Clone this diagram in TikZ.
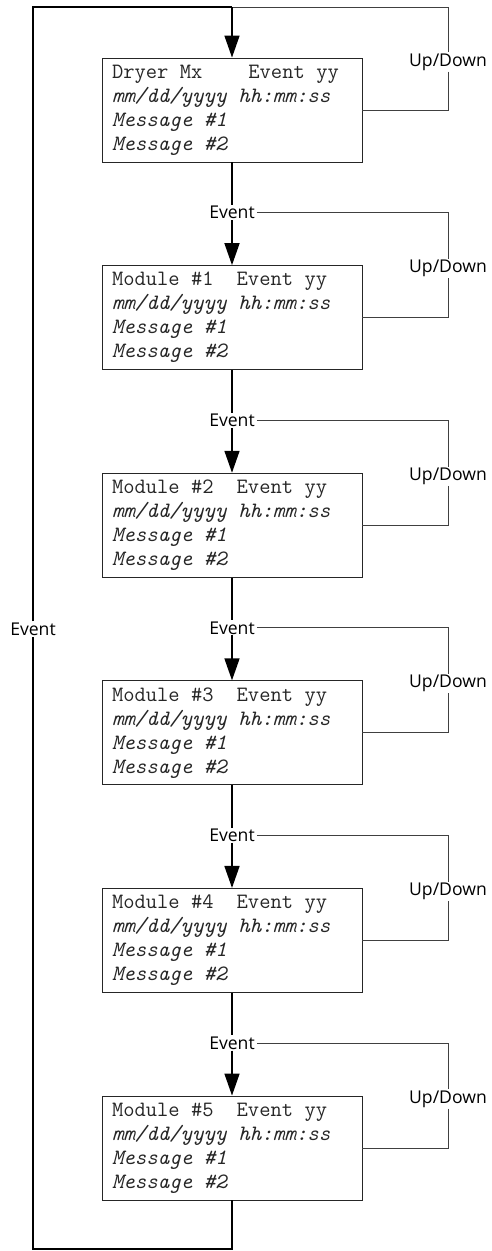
\documentclass[tikz,border=0pt]{standalone}
\usepackage{fontspec}
\newfontfamily\labelfont{Open Sans}
\usetikzlibrary{arrows.meta}
\newcommand\gap{\hspace*{0.525em}}

\begin{document}
\begin{tikzpicture}[x=1pt, y=-1pt,
    screen/.style={draw=black!85, line width=0.9pt, minimum height=104pt,
        inner xsep=10pt, text width=240pt, align=left, text=black!85,
        font=\ttfamily\fontsize{21.9}{24}\selectfont},
    lbl/.style={fill=white, inner xsep=2pt, inner ysep=1pt,
        font=\labelfont\fontsize{17.6}{20}\selectfont},
    flow/.style={line width=1.6pt},
    flowarrow/.style={flow, -{Triangle[length=22pt, width=15pt]}},
    side/.style={line width=0.9pt, draw=black!75}]
    \useasboundingbox (0,0) rectangle (492,1251);

    % screens
    \node[screen] (m0) at (232,110)    {Dryer\gap Mx\gap\gap\gap\gap Event\gap yy\\\textit{mm/dd/yyyy\gap hh:mm:ss}\\\textit{Message\gap\#1}\\\textit{Message\gap\#2}};
    \node[screen] (m1) at (232,317.6)  {Module\gap\#1\gap\gap Event\gap yy\\\textit{mm/dd/yyyy\gap hh:mm:ss}\\\textit{Message\gap\#1}\\\textit{Message\gap\#2}};
    \node[screen] (m2) at (232,525.2)  {Module\gap\#2\gap\gap Event\gap yy\\\textit{mm/dd/yyyy\gap hh:mm:ss}\\\textit{Message\gap\#1}\\\textit{Message\gap\#2}};
    \node[screen] (m3) at (232,732.8)  {Module\gap\#3\gap\gap Event\gap yy\\\textit{mm/dd/yyyy\gap hh:mm:ss}\\\textit{Message\gap\#1}\\\textit{Message\gap\#2}};
    \node[screen] (m4) at (232,940.4)  {Module\gap\#4\gap\gap Event\gap yy\\\textit{mm/dd/yyyy\gap hh:mm:ss}\\\textit{Message\gap\#1}\\\textit{Message\gap\#2}};
    \node[screen] (m5) at (232,1148)   {Module\gap\#5\gap\gap Event\gap yy\\\textit{mm/dd/yyyy\gap hh:mm:ss}\\\textit{Message\gap\#1}\\\textit{Message\gap\#2}};

    % labels
    \node[lbl] (ev1) at (232,212.6)  {Event};
    \node[lbl] (ev2) at (232,420.2)  {Event};
    \node[lbl] (ev3) at (232,627.8)  {Event};
    \node[lbl] (ev4) at (232,835.4)  {Event};
    \node[lbl] (ev5) at (232,1043)   {Event};
    \node[lbl] (evo) at (33,629)     {Event};
    \node[lbl] (ud0) at (448,62)     {Up/Down};
    \node[lbl] (ud1) at (448,268.6)  {Up/Down};
    \node[lbl] (ud2) at (448,476.2)  {Up/Down};
    \node[lbl] (ud3) at (448,683.8)  {Up/Down};
    \node[lbl] (ud4) at (448,891.4)  {Up/Down};
    \node[lbl] (ud5) at (448,1099)   {Up/Down};

    \coordinate (tl) at (33,7);
    \coordinate (tc) at (232,7);
    \coordinate (tr) at (448,7);
    \coordinate (bl) at (33,1249);
    \coordinate (bc) at (232,1249);

    % up/down returns
    \draw[side] (tc) -- (tr) -- (ud0.north);
    \draw[side] (ud0.south) |- (m0.east);
    \draw[side] (ev1.east) -| (ud1.north);
    \draw[side] (ud1.south) |- (m1.east);
    \draw[side] (ev2.east) -| (ud2.north);
    \draw[side] (ud2.south) |- (m2.east);
    \draw[side] (ev3.east) -| (ud3.north);
    \draw[side] (ud3.south) |- (m3.east);
    \draw[side] (ev4.east) -| (ud4.north);
    \draw[side] (ud4.south) |- (m4.east);
    \draw[side] (ev5.east) -| (ud5.north);
    \draw[side] (ud5.south) |- (m5.east);

    % event chain
    \draw[flow] (m5.south) -- (bc) -- (bl) -- (evo.south);
    \draw[flow] (evo.north) -- (tl) -- (tc);
    \draw[flowarrow] (tc) -- (m0.north);
    \draw[flow] (m0.south) -- (ev1.north);
    \draw[flowarrow] (ev1.south) -- (m1.north);
    \draw[flow] (m1.south) -- (ev2.north);
    \draw[flowarrow] (ev2.south) -- (m2.north);
    \draw[flow] (m2.south) -- (ev3.north);
    \draw[flowarrow] (ev3.south) -- (m3.north);
    \draw[flow] (m3.south) -- (ev4.north);
    \draw[flowarrow] (ev4.south) -- (m4.north);
    \draw[flow] (m4.south) -- (ev5.north);
    \draw[flowarrow] (ev5.south) -- (m5.north);
\end{tikzpicture}
\end{document}
